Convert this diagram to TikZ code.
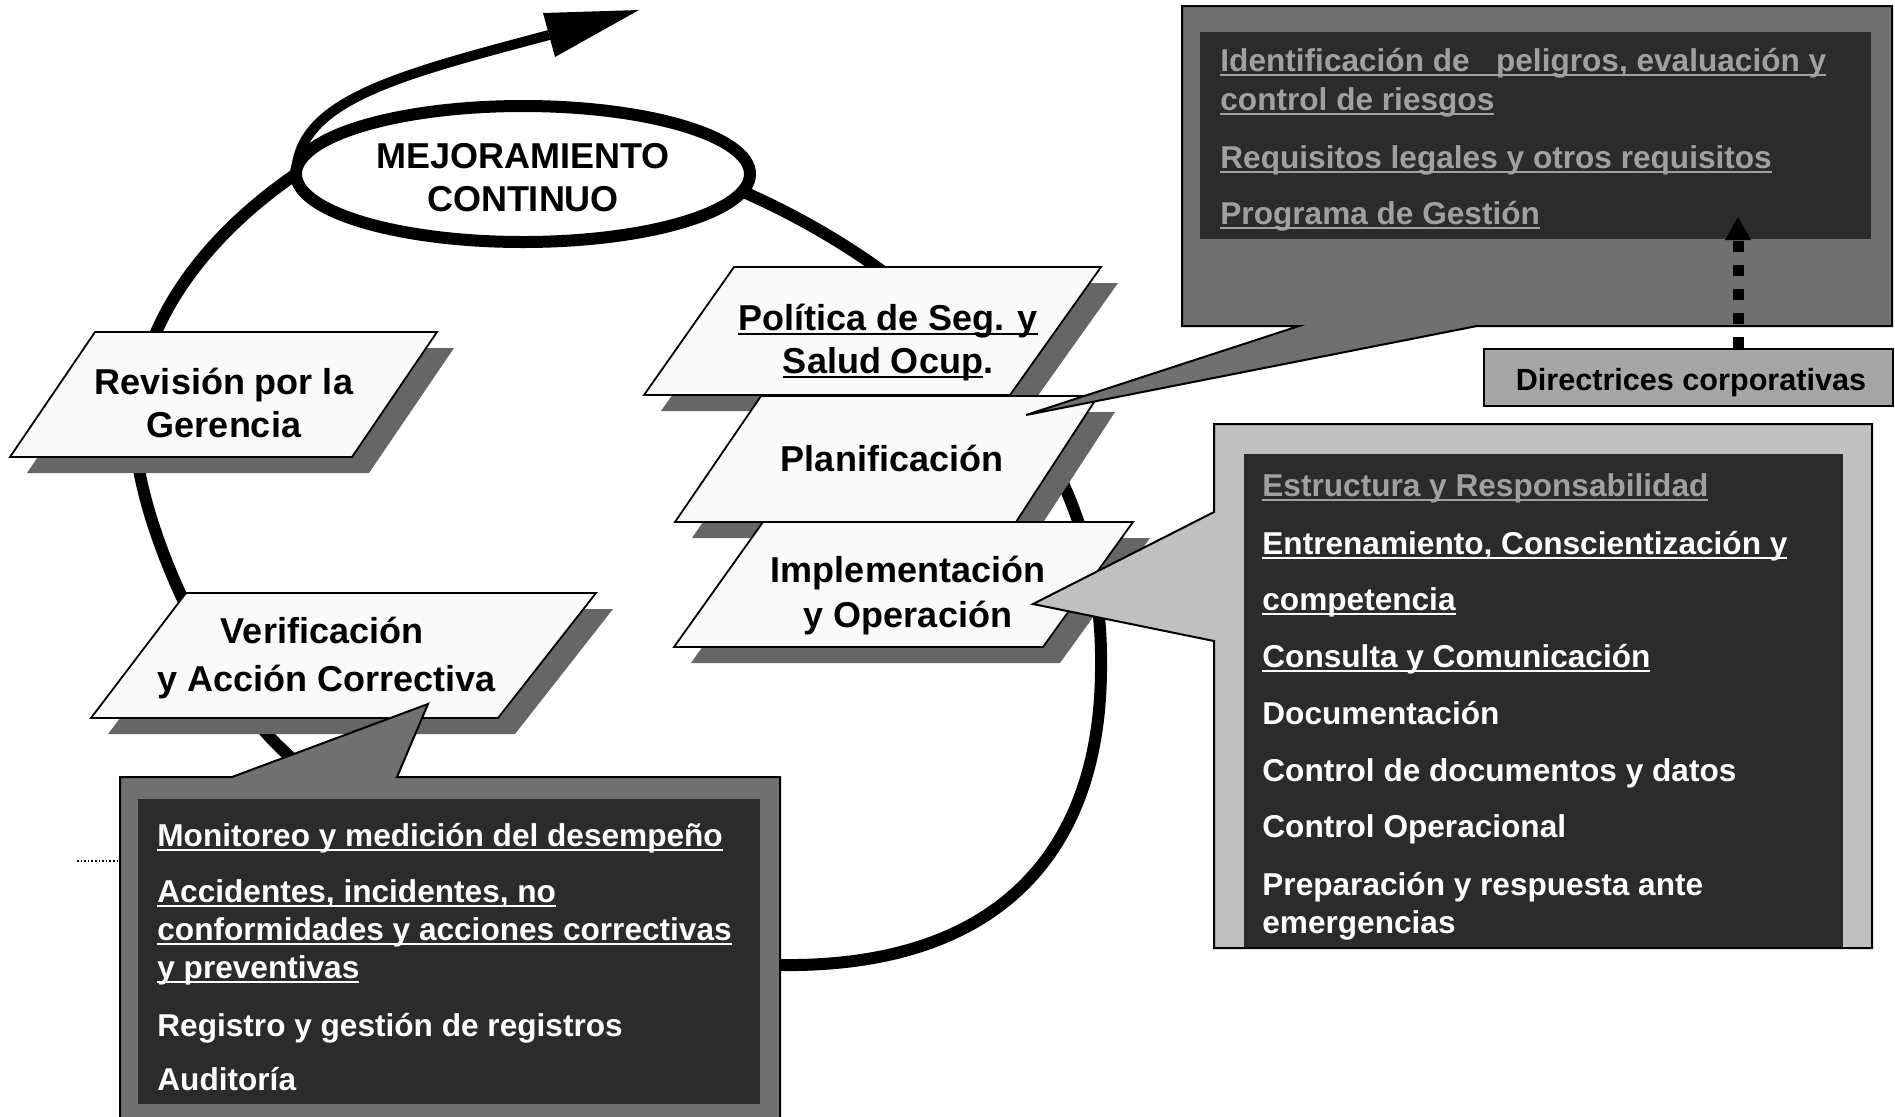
\documentclass[tikz,border=0pt]{standalone}
\usepackage{fontspec}
\setmainfont{Liberation Sans}
\usetikzlibrary{calc}
\definecolor{shadowgray}{HTML}{666666}
\definecolor{boxfill}{HTML}{FAFAFA}
\definecolor{darkcall}{HTML}{707070}
\definecolor{lightcall}{HTML}{C0C0C0}
\definecolor{innerdark}{HTML}{2B2B2B}
\definecolor{dirfill}{HTML}{A6A6A6}
\definecolor{txtgray}{HTML}{A0A0A0}
\newsavebox\ulbox
\newcommand\myul[1]{\sbox\ulbox{#1}\rlap{\rule[-0.15em]{\wd\ulbox}{0.07em}}\usebox\ulbox}
\newcommand\pgram[5]{%
  \fill[pshadow, shift={(17,16)}] #2 -- #3 -- #4 -- #5 -- cycle;
  \draw[pbox] #2 coordinate (#1-bl) -- #3 coordinate (#1-br) -- #4 coordinate (#1-tr) -- #5 coordinate (#1-tl) -- cycle;}
\begin{document}
\begin{tikzpicture}[x=0.5pt,y=-0.5pt,
  loopline/.style={line width=6pt},
  pshadow/.style={fill=shadowgray},
  pbox/.style={fill=boxfill, draw=black, line width=0.9pt, line join=miter},
  blabel/.style={font=\fontsize{18}{21.5}\selectfont\bfseries, anchor=base, inner sep=0pt},
  ctext/.style={font=\fontsize{15.8}{19}\selectfont\bfseries, anchor=base west, inner sep=0pt, text=white},
  gtext/.style={ctext, text=txtgray},
  callout/.style={draw=black, line width=1pt, line join=miter},
  innerbox/.style={fill=innerdark},
]
\useasboundingbox (0,0) rectangle (1895,1116);
\clip (0,0) rectangle (1895,1116);
\fill[white] (0,0) rectangle (1895,1116);

% main loop
\draw[loopline] (715,180) .. controls (905,255) and (1105,420) .. (1101,667)
  .. controls (1101,850) and (1000,968) .. (780,965)
  .. controls (650,965) and (340,810) .. (286,753)
  .. controls (215,690) and (135,520) .. (135,430)
  .. controls (135,330) and (200,240) .. (296,174);

% ellipse
\coordinate (mejc) at (523,174);
\draw[line width=6pt, fill=white] (mejc) ellipse [x radius=113.5pt, y radius=34pt];
\node[blabel] (mej1) at (523,168) {MEJORAMIENTO};
\node[blabel] (mej2) at (523,211) {CONTINUO};

% outgoing arrow
\coordinate (astart) at (296,172);
\coordinate (abase) at (549,35);
\coordinate (atip) at (639,10);
\draw[line width=5pt] (astart) .. controls (300,100) and (399,75) .. (abase);
\fill (543,13) -- (atip) -- (555,57) -- cycle;

% parallelogram boxes
\pgram{rev}{(10,457)}{(352,457)}{(437,332)}{(95,332)}
\node[blabel] (rev1) at (224,394) {Revisión por la};
\node[blabel] (rev2) at (224,437) {Gerencia};

\pgram{ver}{(91,718)}{(498,718)}{(596,593)}{(186,593)}
\node[blabel] (ver1) at (322,643) {Verificación};
\node[blabel] (ver2) at (327,691) {y Acción Correctiva};

\pgram{pol}{(644,395)}{(1010,395)}{(1101,267)}{(734,267)}
\node[blabel] (pol1) at (888,330) {\myul{Política de Seg. y}};
\node[blabel] (pol2) at (888,373) {\myul{Salud Ocup}.};

\pgram{pla}{(675,522)}{(1016,522)}{(1098,396)}{(761,396)}
\node[blabel] (pla1) at (892,471) {Planificación};

\pgram{imp}{(674,647)}{(1043,647)}{(1133,522)}{(763,522)}
\node[blabel] (imp1) at (908,582) {Implementación};
\node[blabel] (imp2) at (908,627) {y Operación};

% top-right callout
\draw[callout, fill=darkcall] (1182,6) -- (1892,6) -- (1892,326) -- (1477,326)
  -- (1026,415) coordinate (tipA) -- (1299,326) -- (1182,326) -- cycle;
\fill[innerbox] (1200,32) rectangle (1871,239);
\node[gtext] (t1) at (1220,71) {\myul{Identificación de\ \ \ peligros, evaluación y}};
\node[gtext] (t2) at (1220,110) {\myul{control de riesgos}};
\node[gtext] (t3) at (1220,168) {\myul{Requisitos legales y otros requisitos}};
\node[gtext] (t4) at (1220,224) {\myul{Programa de Gestión}};

% right callout
\draw[callout, fill=lightcall] (1214,424) -- (1872,424) -- (1872,948) -- (1214,948)
  -- (1214,641) -- (1033,604) coordinate (tipB) -- (1214,512) -- cycle;
\fill[innerbox] (1244,454) rectangle (1843,947);
\node[gtext] (r1) at (1262,496) {\myul{Estructura y Responsabilidad}};
\node[ctext] (r2) at (1262,554) {\myul{Entrenamiento, Conscientización y}};
\node[ctext] (r3) at (1262,610) {\myul{competencia}};
\node[ctext] (r4) at (1262,667) {\myul{Consulta y Comunicación}};
\node[ctext] (r5) at (1262,724) {Documentación};
\node[ctext] (r6) at (1262,781) {Control de documentos y datos};
\node[ctext] (r7) at (1262,837) {Control Operacional};
\node[ctext] (r8) at (1262,895) {Preparación y respuesta ante};
\node[ctext] (r9) at (1262,933) {emergencias};

% bottom callout
\draw[callout, fill=darkcall] (120,1130) -- (120,777) -- (232,777) -- (428,704) coordinate (tipC)
  -- (397,777) -- (780,777) -- (780,1130) -- cycle;
\fill[innerbox] (138,799) rectangle (760,1104);
\node[ctext] (b1) at (157,846) {\myul{Monitoreo y medición del desempeño}};
\node[ctext] (b2) at (157,902) {\myul{Accidentes, incidentes, no}};
\node[ctext] (b3) at (157,940) {\myul{conformidades y acciones correctivas}};
\node[ctext] (b4) at (157,978) {\myul{y preventivas}};
\node[ctext] (b5) at (157,1036) {Registro y gestión de registros};
\node[ctext] (b6) at (157,1090) {Auditoría};

% directrices
\node[draw=black, line width=0.8pt, fill=dirfill, minimum width=204.5pt, minimum height=28.5pt,
  inner sep=0pt] (dir) at (1688.5,377.5) {};
\node[anchor=base, inner sep=0pt, font=\fontsize{15.3}{18}\selectfont\bfseries] (dirt) at (1691,390) {Directrices corporativas};
\coordinate (dtip) at (1738,217);
\coordinate (dbase) at (1738,240);
\draw[line width=5.5pt, dash pattern=on 5.75pt off 6.25pt] (dtip |- dir.north) -- (dbase);
\fill (1725,240) -- (1751,240) -- (dtip) -- cycle;

% small dotted mark
\coordinate (dl1) at (77,861);
\coordinate (dl2) at (120,861);
\draw[densely dotted, line width=0.8pt] (dl1) -- (dl2);
\end{tikzpicture}
\end{document}
